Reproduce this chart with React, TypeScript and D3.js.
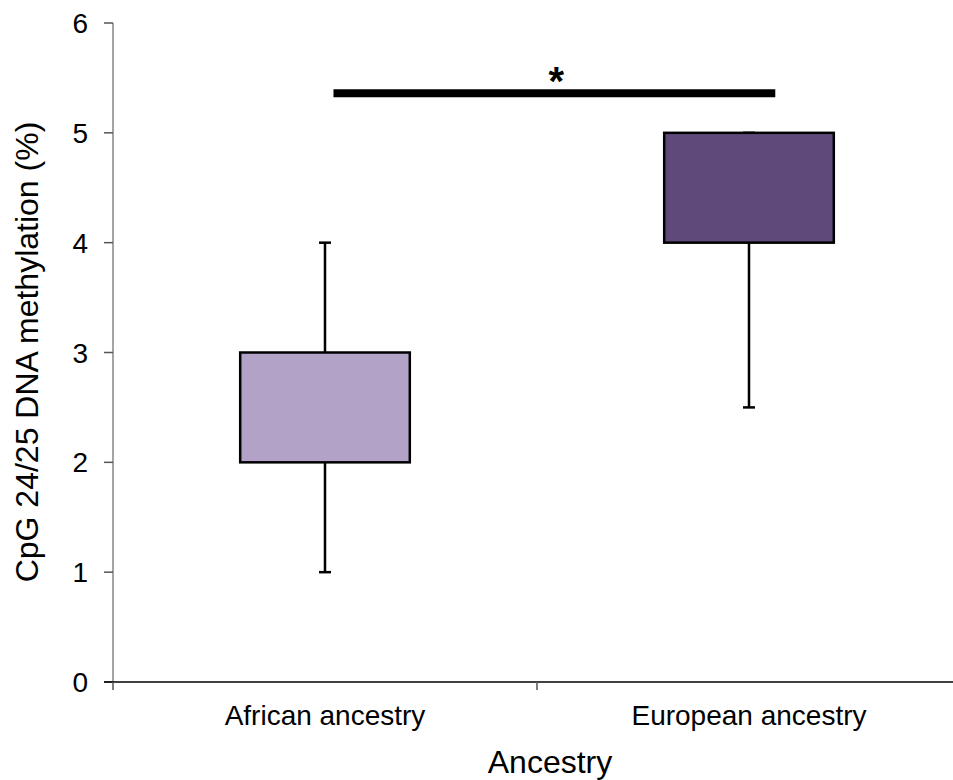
import React, { useRef, useEffect } from "react";
import * as d3 from "d3";

const categories = ["African ancestry", "European ancestry"];
const whiskerMin = [1, 2.5];
const boxLow = [2, 4];
const boxHigh = [3, 5];
const whiskerMax = [4, 5];
const boxColors = ["#b2a2c7", "#5f497a"];
const yTicks = [0, 1, 2, 3, 4, 5, 6];
const sigLevel = 5.36;
const sigLabel = "*";

const App = () => {
  const chartRef = useRef<SVGSVGElement | null>(null);

  useEffect(() => {
    const width = 953;
    const height = 780;
    const font = "'Liberation Sans', Arial, sans-serif";

    const svg = d3.select(chartRef.current);
    svg.selectAll("*").remove();

    // échelles
    const x = d3.scaleBand().domain(categories).range([113, 961]).padding(0);
    const y = d3.scaleLinear().domain([0, 6]).range([682, 23]);
    const center = (c: string) => (x(c) as number) + x.bandwidth() / 2;
    const boxW = x.bandwidth() * 0.4;
    const capW = 12;

    // axe y
    const yAxis = svg.append("g").attr("transform", "translate(113,0)");
    yAxis
      .append("line")
      .attr("y1", y(6))
      .attr("y2", y(0))
      .attr("stroke", "#868686")
      .attr("stroke-width", 1.5);
    yAxis
      .selectAll("line.tick")
      .data(yTicks)
      .enter()
      .append("line")
      .attr("class", "tick")
      .attr("x1", -9)
      .attr("x2", 0)
      .attr("y1", (d) => y(d))
      .attr("y2", (d) => y(d))
      .attr("stroke", "#555")
      .attr("stroke-width", 1.5);
    yAxis
      .selectAll("text")
      .data(yTicks)
      .enter()
      .append("text")
      .attr("x", -25)
      .attr("y", (d) => y(d))
      .attr("dy", "0.36em")
      .attr("text-anchor", "end")
      .style("font-family", font)
      .style("font-size", "28px")
      .text((d) => d);

    // axe x
    const xAxis = svg.append("g").attr("transform", `translate(0,${y(0)})`);
    xAxis
      .append("line")
      .attr("x1", 104)
      .attr("x2", 961)
      .attr("stroke", "#000")
      .attr("stroke-width", 1.5);
    xAxis
      .selectAll("line.tick")
      .data([...categories.map((c) => x(c) as number), 961])
      .enter()
      .append("line")
      .attr("class", "tick")
      .attr("x1", (d) => d)
      .attr("x2", (d) => d)
      .attr("y1", 0)
      .attr("y2", 8)
      .attr("stroke", "#555")
      .attr("stroke-width", 1.5);
    xAxis
      .selectAll("text")
      .data(categories)
      .enter()
      .append("text")
      .attr("x", (d) => center(d))
      .attr("y", 43)
      .attr("text-anchor", "middle")
      .style("font-family", font)
      .style("font-size", "28px")
      .text((d) => d);

    // boîtes
    const groups = svg
      .selectAll("g.box")
      .data(categories)
      .enter()
      .append("g")
      .attr("class", "box");

    groups
      .append("line")
      .attr("x1", (d) => center(d))
      .attr("x2", (d) => center(d))
      .attr("y1", (d, i) => y(whiskerMin[i]))
      .attr("y2", (d, i) => y(whiskerMax[i]))
      .attr("stroke", "#000")
      .attr("stroke-width", 2.5);

    groups
      .selectAll("line.cap")
      .data((d, i) => [
        { c: d, v: whiskerMin[i] },
        { c: d, v: whiskerMax[i] },
      ])
      .enter()
      .append("line")
      .attr("class", "cap")
      .attr("x1", (d) => center(d.c) - capW / 2)
      .attr("x2", (d) => center(d.c) + capW / 2)
      .attr("y1", (d) => y(d.v))
      .attr("y2", (d) => y(d.v))
      .attr("stroke", "#000")
      .attr("stroke-width", 2.5);

    groups
      .append("rect")
      .attr("x", (d) => center(d) - boxW / 2)
      .attr("y", (d, i) => y(boxHigh[i]))
      .attr("width", boxW)
      .attr("height", (d, i) => y(boxLow[i]) - y(boxHigh[i]))
      .attr("fill", (d, i) => boxColors[i])
      .attr("stroke", "#000")
      .attr("stroke-width", 2.5);

    // barre de significativité
    const sx1 = center(categories[0]) + x.bandwidth() * 0.02;
    const sx2 = center(categories[1]) + x.bandwidth() * 0.062;
    svg
      .append("line")
      .attr("x1", sx1)
      .attr("x2", sx2)
      .attr("y1", y(sigLevel))
      .attr("y2", y(sigLevel))
      .attr("stroke", "#000")
      .attr("stroke-width", 8);
    svg
      .append("text")
      .attr("x", (sx1 + sx2) / 2 + 2)
      .attr("y", y(sigLevel) + 2)
      .attr("text-anchor", "middle")
      .style("font-family", font)
      .style("font-size", "40px")
      .style("font-weight", "bold")
      .text(sigLabel);

    // titres des axes
    svg
      .append("text")
      .attr("x", 550)
      .attr("y", 773)
      .attr("text-anchor", "middle")
      .style("font-family", font)
      .style("font-size", "32px")
      .text("Ancestry");

    svg
      .append("text")
      .attr("transform", "rotate(-90)")
      .attr("x", -352)
      .attr("y", 38)
      .attr("text-anchor", "middle")
      .style("font-family", font)
      .style("font-size", "32px")
      .text("CpG 24/25 DNA methylation (%)");

    svg.attr("width", width).attr("height", height);
  }, []);

  return (
    <svg
      ref={chartRef}
      width={953}
      height={780}
      style={{ position: "absolute", left: 0, top: 0, background: "#fff" }}
    />
  );
};

export default App;
